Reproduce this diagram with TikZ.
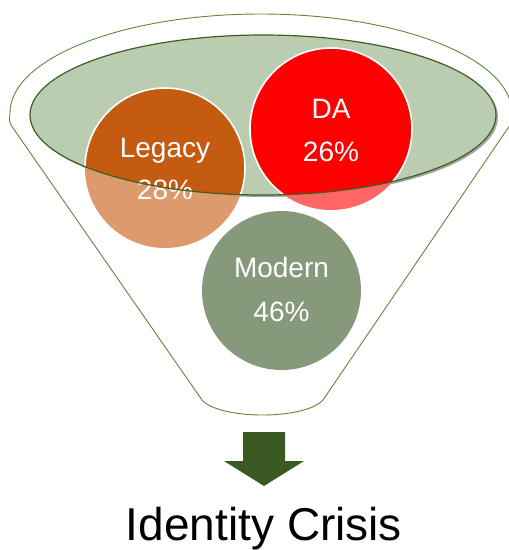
\documentclass[tikz,border=0pt]{standalone}
\usepackage{fontspec}
\setmainfont{Liberation Sans}
\definecolor{funnelgreen}{HTML}{5A8A3A}
\definecolor{ellfill}{HTML}{BBCDB0}
\definecolor{ellline}{HTML}{3D5F24}
\definecolor{legdark}{HTML}{C55A11}
\definecolor{leglight}{HTML}{DC9A6D}
\definecolor{dadark}{HTML}{FF0000}
\definecolor{dalight}{HTML}{FF6666}
\definecolor{modfill}{HTML}{86997A}
\definecolor{arrowgreen}{HTML}{3A5A22}
\tikzset{
  funnel/.style={draw=funnelgreen, line width=0.9pt},
  bubble/.style={circle, inner sep=0pt, minimum size=#1},
  bubbletext/.style={anchor=base, inner sep=0pt, text=white, font=\fontsize{28}{34}\selectfont},
}
\begin{document}
\begin{tikzpicture}[x=1pt,y=-1pt]
\useasboundingbox (0,0) rectangle (509,550);
% outer funnel
\draw[funnel] (13,128) .. controls (9,122) .. (10,113)
  arc[start angle=180,end angle=0,x radius=251pt,y radius=99pt]
  .. controls (513,122) .. (508,128) -- (323,400)
  .. controls (305,420) and (220,420) .. (202,400) -- cycle;
% inner ellipse
\fill[gray!70] (265,117) ellipse [x radius=233pt, y radius=80pt];
\fill[ellfill] (263,115) ellipse [x radius=233pt, y radius=80pt];
% bubbles (light parts)
\node[bubble=160pt, fill=leglight] (legacy) at (165,168) {};
\node[bubble=162pt, fill=dalight] (da) at (331,129) {};
\node[bubble=159pt, fill=modfill] (modern) at (281.5,290.5) {};
% dark parts inside the ellipse
\begin{scope}
  \clip (263,115) ellipse [x radius=233pt, y radius=80pt];
  \fill[legdark] (legacy.center) circle[radius=80pt];
  \fill[dadark] (da.center) circle[radius=81pt];
  \draw[white, line width=1.6pt] (legacy.center) circle[radius=80pt];
  \draw[white, line width=1.6pt] (da.center) circle[radius=81pt];
\end{scope}
% labels
\node[bubbletext] (tlegacy1) at (165,157) {Legacy};
\node[bubbletext] (tlegacy2) at (165,199) {28\%};
\node[bubbletext] (tda1) at (331,118) {DA};
\node[bubbletext] (tda2) at (331,161) {26\%};
\node[bubbletext] (tmodern1) at (281.5,277) {Modern};
\node[bubbletext] (tmodern2) at (281.5,321) {46\%};
% ellipse outline
\draw[ellline, line width=1.2pt] (263,115) ellipse [x radius=233pt, y radius=80pt];
% arrow
\fill[arrowgreen] (243,432) -- (285,432) -- (285,461) -- (304,461) -- (264,486) -- (224,461) -- (243,461) -- cycle;
% caption
\node[anchor=base, inner sep=0pt, font=\fontsize{46}{50}\selectfont] (caption) at (264,540) {Identity Crisis};
\end{tikzpicture}
\end{document}
